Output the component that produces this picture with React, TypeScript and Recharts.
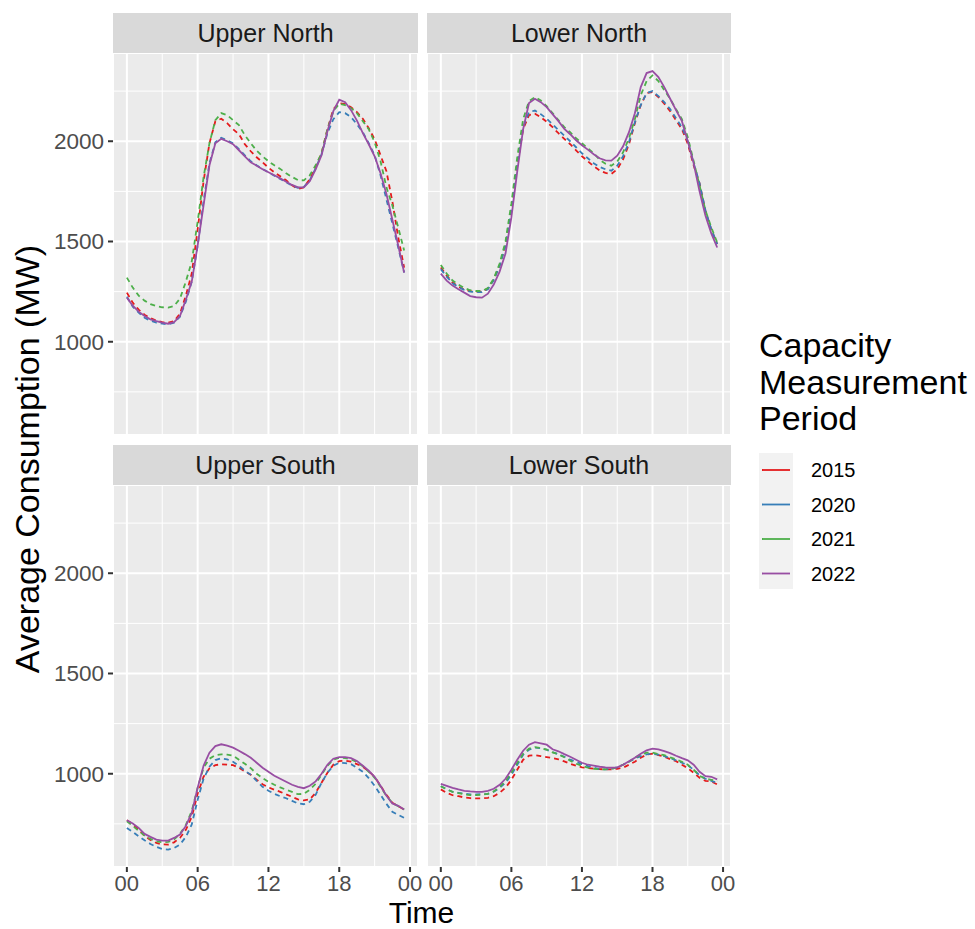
import React from "react";
import { LineChart, Line, XAxis, YAxis, CartesianGrid } from "recharts";

const FONT = '"Liberation Sans", Arial, Helvetica, sans-serif';

// half-hourly time of day
const hours = [
  0, 0.5, 1, 1.5, 2, 2.5, 3, 3.5, 4, 4.5, 5, 5.5, 6, 6.5, 7, 7.5,
  8, 8.5, 9, 9.5, 10, 10.5, 11, 11.5, 12, 12.5, 13, 13.5, 14, 14.5, 15, 15.5,
  16, 16.5, 17, 17.5, 18, 18.5, 19, 19.5, 20, 20.5, 21, 21.5, 22, 22.5, 23, 23.5,
];

const years = ["2015", "2020", "2021", "2022"];
const yearColors = ["#E41A1C", "#377EB8", "#4DAF4A", "#984EA3"];
const yearDashes = ["5 4", "5 4", "5 4", undefined];

// Upper North
const un2015 = [1245,1195,1160,1135,1118,1105,1098,1095,1103,1140,1230,1340,1560,1800,1990,2100,2112,2090,2060,2035,1985,1950,1920,1895,1868,1845,1825,1805,1780,1762,1770,1810,1870,1940,2060,2160,2190,2185,2170,2145,2112,2065,2010,1930,1850,1700,1520,1370];
const un2020 = [1225,1175,1145,1120,1105,1095,1090,1087,1095,1125,1200,1300,1480,1700,1890,1995,2017,2005,1990,1960,1930,1900,1880,1862,1845,1828,1812,1795,1778,1768,1772,1805,1865,1935,2040,2110,2145,2140,2120,2085,2045,1990,1930,1830,1710,1590,1470,1345];
const un2021 = [1320,1270,1230,1205,1188,1178,1172,1170,1178,1215,1300,1400,1600,1820,1990,2105,2140,2130,2105,2080,2030,1990,1953,1925,1900,1880,1862,1840,1822,1806,1805,1830,1880,1940,2060,2150,2187,2180,2165,2140,2100,2060,1995,1900,1770,1680,1570,1455];
const un2022 = [1220,1180,1150,1128,1112,1103,1095,1090,1098,1128,1210,1300,1480,1680,1880,1990,2012,2000,1985,1955,1925,1895,1878,1860,1845,1830,1815,1798,1782,1770,1770,1800,1860,1930,2050,2150,2207,2195,2155,2103,2040,1985,1925,1840,1737,1610,1480,1345];

// Lower North
const ln2015 = [1370,1330,1295,1275,1260,1252,1250,1250,1265,1310,1380,1480,1660,1880,2060,2130,2137,2120,2097,2070,2040,2012,1985,1955,1925,1900,1875,1855,1842,1837,1860,1910,1985,2090,2180,2240,2245,2220,2187,2150,2105,2060,1987,1880,1790,1653,1560,1487];
const ln2020 = [1362,1325,1292,1272,1258,1250,1248,1248,1262,1308,1378,1480,1660,1885,2070,2145,2153,2135,2112,2085,2055,2028,2000,1970,1940,1915,1890,1872,1860,1853,1878,1925,1995,2095,2180,2240,2250,2225,2195,2160,2115,2070,2000,1890,1790,1655,1560,1487];
const ln2021 = [1383,1340,1305,1285,1268,1257,1253,1253,1268,1315,1390,1500,1690,1920,2110,2200,2220,2203,2175,2140,2105,2070,2045,2015,1990,1965,1940,1908,1888,1878,1898,1945,2015,2110,2230,2300,2328,2300,2255,2212,2160,2110,2020,1900,1780,1655,1570,1495];
const ln2022 = [1340,1305,1280,1262,1245,1228,1222,1220,1240,1285,1350,1440,1620,1850,2060,2190,2212,2195,2170,2135,2100,2062,2035,2005,1980,1958,1935,1915,1905,1903,1928,1975,2045,2140,2270,2340,2350,2320,2270,2212,2155,2100,2000,1890,1750,1630,1540,1470];

// Upper South
const us2015 = [768,748,722,690,670,655,648,647,658,680,720,785,900,985,1027,1043,1047,1045,1043,1030,1012,995,970,948,932,920,910,897,885,872,867,872,905,955,1005,1045,1063,1065,1060,1048,1035,1012,985,940,895,855,838,822];
const us2020 = [730,710,688,668,650,635,625,622,630,647,685,747,870,975,1035,1068,1077,1072,1060,1040,1015,995,965,935,915,900,888,878,865,852,848,860,895,955,1005,1040,1055,1053,1048,1030,1010,978,940,895,850,810,795,780];
const us2021 = [763,740,715,692,675,663,658,660,672,700,745,815,930,1030,1075,1093,1097,1095,1090,1070,1050,1028,1000,978,960,945,932,920,910,898,900,920,950,995,1040,1070,1080,1078,1072,1058,1038,1010,980,935,890,855,838,822];
const us2022 = [768,752,730,700,685,672,667,667,680,697,740,805,930,1040,1105,1138,1147,1140,1130,1115,1098,1080,1055,1030,1010,990,975,960,945,935,928,940,962,1000,1045,1075,1083,1083,1078,1063,1040,1015,985,940,890,852,840,822];

// Lower South
const ls2015 = [922,905,893,888,882,878,877,877,880,888,905,930,970,1020,1070,1090,1093,1088,1083,1078,1072,1062,1050,1040,1032,1028,1025,1023,1022,1022,1025,1030,1045,1060,1080,1095,1100,1093,1085,1073,1063,1045,1028,1005,980,965,962,947];
const ls2020 = [938,922,910,905,900,897,897,898,900,910,930,955,995,1045,1095,1120,1130,1127,1120,1108,1097,1085,1070,1060,1048,1038,1030,1023,1022,1025,1032,1045,1060,1075,1088,1097,1100,1095,1088,1078,1067,1055,1042,1020,992,975,965,955];
const ls2021 = [938,922,910,903,897,893,893,895,900,912,935,963,1005,1055,1100,1125,1133,1128,1120,1107,1097,1082,1065,1050,1040,1030,1025,1022,1022,1025,1032,1045,1060,1080,1095,1105,1105,1098,1093,1082,1072,1060,1045,1020,990,975,970,963];
const ls2022 = [950,940,930,922,915,912,910,910,915,925,945,975,1020,1070,1115,1145,1158,1152,1145,1122,1112,1098,1085,1070,1055,1045,1040,1035,1032,1030,1032,1045,1062,1080,1100,1117,1125,1122,1113,1103,1090,1078,1067,1045,1010,988,985,972];

const xDomain = [-1.175, 24.675];
const yDomain = [535, 2440];
const xMajor = [0, 6, 12, 18, 24];
const xMinor = [3, 9, 15, 21];
const yMajor = [1000, 1500, 2000];
const yMinor = [750, 1250, 1750, 2250];
const xLabels = ["00", "06", "12", "18", "00"];

const legendTitle = ["Capacity", "Measurement", "Period"];

function buildRows(series: number[][]) {
  return hours.map((h, i) => {
    const row: Record<string, number> = { hour: h };
    years.forEach((y, k) => {
      row["y" + y] = series[k][i];
    });
    return row;
  });
}

interface PanelProps {
  title: string;
  rows: Record<string, number>[];
  plotLeft: number;
  plotWidth: number;
  top: number;
  showX: boolean;
  showY: boolean;
}

function Panel({ title, rows, plotLeft, plotWidth, top, showX, showY }: PanelProps) {
  const yAxisW = showY ? plotLeft : 0;
  const chartLeft = showY ? 0 : plotLeft;
  const rightPad = 16;
  const plotH = 382;
  const xAxisH = 42;
  const tickStyle = { fill: "#4D4D4D", fontSize: 22, fontFamily: FONT };

  return (
    <>
      <div
        style={{
          position: "absolute",
          left: plotLeft,
          top: top - 40,
          width: plotWidth,
          height: 40,
          background: "#D9D9D9",
          display: "flex",
          alignItems: "center",
          justifyContent: "center",
          fontFamily: FONT,
          fontSize: 25,
          color: "#1A1A1A",
        }}
      >
        {title}
      </div>
      <div style={{ position: "absolute", left: chartLeft, top }}>
        <LineChart
          width={yAxisW + plotWidth + rightPad}
          height={plotH + (showX ? xAxisH : 0)}
          data={rows}
          margin={{ top: 0, right: rightPad, bottom: 0, left: 0 }}
        >
          <XAxis xAxisId="minor" dataKey="hour" type="number" domain={xDomain} ticks={xMinor} allowDataOverflow hide />
          <YAxis yAxisId="minor" type="number" domain={yDomain} ticks={yMinor} allowDataOverflow hide />
          <XAxis
            dataKey="hour"
            type="number"
            domain={xDomain}
            ticks={xMajor}
            interval={0}
            allowDataOverflow
            hide={!showX}
            height={xAxisH}
            axisLine={false}
            tickLine={{ stroke: "#333333", strokeWidth: 2 }}
            tickSize={5}
            tickMargin={3}
            tick={tickStyle}
            tickFormatter={(v: number) => xLabels[xMajor.indexOf(v)]}
          />
          <YAxis
            type="number"
            domain={yDomain}
            ticks={yMajor}
            interval={0}
            allowDataOverflow
            hide={!showY}
            width={yAxisW}
            axisLine={false}
            tickLine={{ stroke: "#333333", strokeWidth: 2 }}
            tickSize={5}
            tickMargin={4}
            tick={{ ...tickStyle, fontSize: 22.5 }}
          />
          <CartesianGrid xAxisId="minor" yAxisId="minor" fill="#EBEBEB" fillOpacity={1} stroke="#FFFFFF" strokeWidth={1} />
          <CartesianGrid stroke="#FFFFFF" strokeWidth={2} />
          {years.map((y, k) => (
            <Line
              key={y}
              type="linear"
              dataKey={"y" + y}
              stroke={yearColors[k]}
              strokeWidth={1.8}
              strokeDasharray={yearDashes[k]}
              dot={false}
              activeDot={false}
              isAnimationActive={false}
            />
          ))}
        </LineChart>
      </div>
    </>
  );
}

export default function App() {
  const legendY = [470, 504.5, 539, 573.5];
  return (
    <div style={{ position: "absolute", left: 0, top: 0, width: 975, height: 929, background: "#FFFFFF", fontFamily: FONT }}>
      <svg width={975} height={929} style={{ position: "absolute", left: 0, top: 0 }}>
        <text x={38.5} y={459} transform="rotate(-90 38.5 459)" textAnchor="middle" fontSize={34} fill="#000000" fontFamily={FONT}>
          Average Consumption (MW)
        </text>
        <text x={421.5} y={922.5} textAnchor="middle" fontSize={30} fill="#000000" fontFamily={FONT}>
          Time
        </text>
        {legendTitle.map((t, i) => (
          <text key={t} x={759} y={357 + i * 36.5} fontSize={34} fill="#000000" fontFamily={FONT}>
            {t}
          </text>
        ))}
        <rect x={759} y={453} width={34} height={136} fill="#F2F2F2" />
        {years.map((y, k) => (
          <g key={y}>
            <line x1={762} x2={790} y1={legendY[k]} y2={legendY[k]} stroke={yearColors[k]} strokeWidth={1.8} />
            <text x={811} y={legendY[k]} dominantBaseline="central" fontSize={20} fill="#000000" fontFamily={FONT}>
              {y}
            </text>
          </g>
        ))}
      </svg>
      <Panel title="Upper North" rows={buildRows([un2015, un2020, un2021, un2022])} plotLeft={113} plotWidth={305} top={53} showX={false} showY={true} />
      <Panel title="Lower North" rows={buildRows([ln2015, ln2020, ln2021, ln2022])} plotLeft={427} plotWidth={304} top={53} showX={false} showY={false} />
      <Panel title="Upper South" rows={buildRows([us2015, us2020, us2021, us2022])} plotLeft={113} plotWidth={305} top={485} showX={true} showY={true} />
      <Panel title="Lower South" rows={buildRows([ls2015, ls2020, ls2021, ls2022])} plotLeft={427} plotWidth={304} top={485} showX={true} showY={false} />
    </div>
  );
}
